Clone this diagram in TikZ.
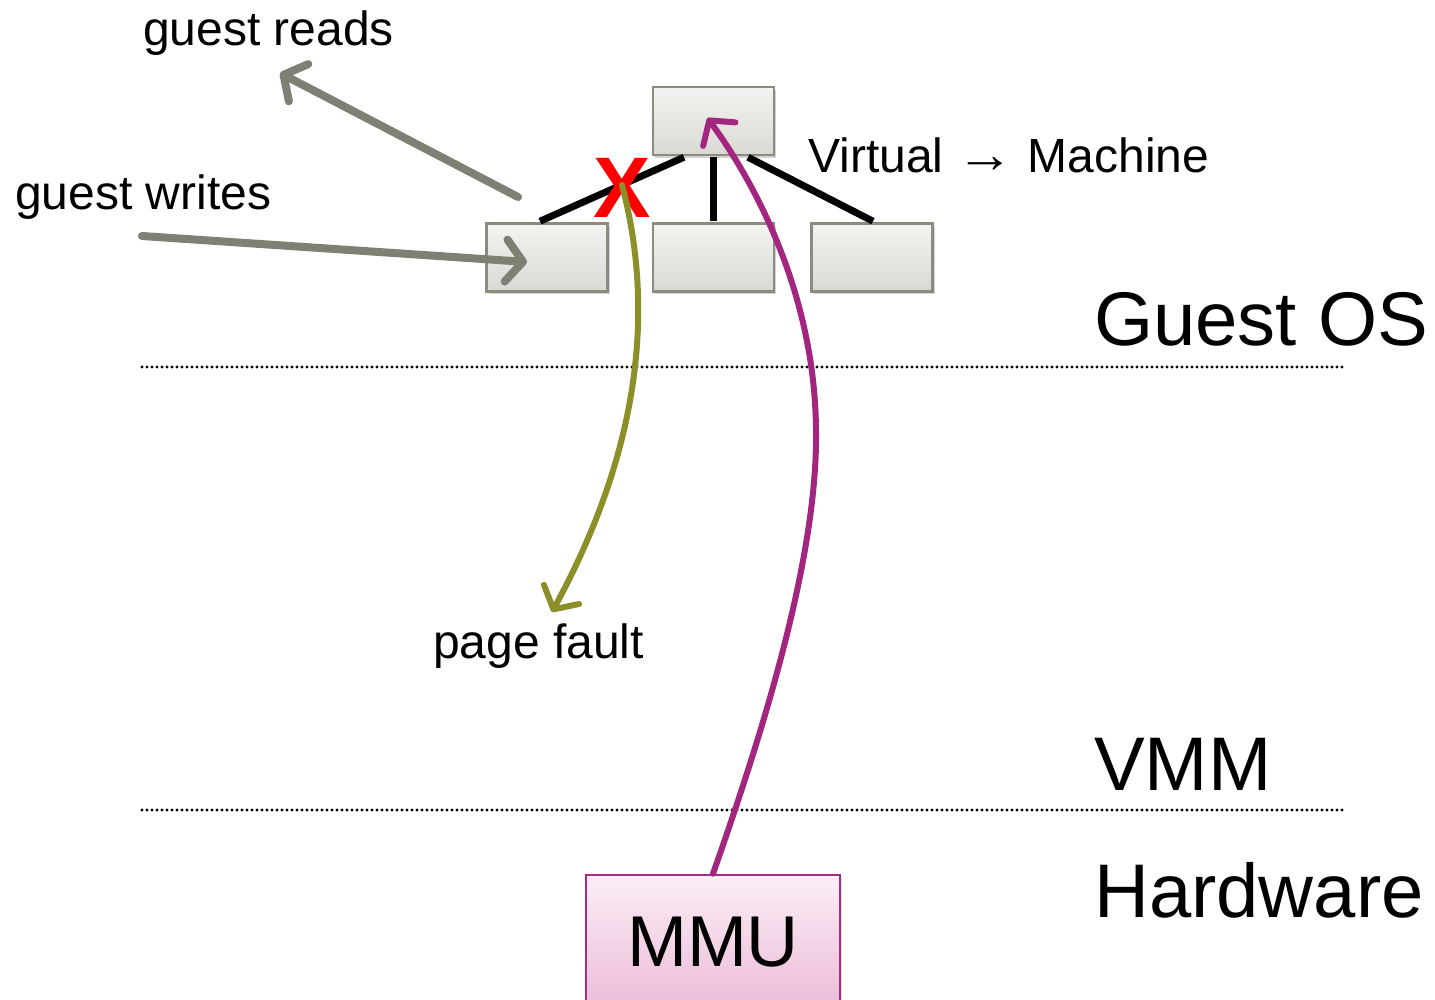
\documentclass[tikz,border=0pt]{standalone}
\usepackage{fontspec}
\setmainfont{Liberation Sans}
\usetikzlibrary{arrows.meta,shadows,calc}
\definecolor{boxborder}{HTML}{8B8B80}
\definecolor{boxtop}{HTML}{F3F3F1}
\definecolor{boxbot}{HTML}{D9D9D4}
\definecolor{grayarrow}{HTML}{7F7F74}
\definecolor{olivearrow}{HTML}{8A9027}
\definecolor{magarrow}{HTML}{A2267F}
\definecolor{mmuborder}{HTML}{A22E8A}
\definecolor{mmutop}{HTML}{FBEFF6}
\definecolor{mmubot}{HTML}{EBBAD7}
\tikzset{
  ptbox/.style={draw=boxborder, line width=2.5pt, top color=boxtop, bottom color=boxbot,
    minimum width=121pt, minimum height=68pt, inner sep=0pt,
    drop shadow={shadow xshift=2pt, shadow yshift=-3pt, opacity=0.35}},
  treeline/.style={line width=7pt, black},
  grayarr/.style={line width=8pt, grayarrow, line cap=round,
    -{Straight Barb[length=17pt,width=42pt,line width=8pt,round]}},
  curvearr/.style={line width=6pt, line cap=round,
    -{Straight Barb[length=17pt,width=40pt,line width=6pt,round]}},
  lbl/.style={font=\fontsize{48pt}{56pt}\selectfont, inner sep=0pt, anchor=base west},
  biglbl/.style={font=\fontsize{76pt}{86pt}\selectfont, inner sep=0pt, anchor=base west},
  sep/.style={line width=3.2pt, line cap=round, dash pattern=on 0pt off 5pt, black}
}
\begin{document}
\begin{tikzpicture}[x=1pt,y=-1pt]
\useasboundingbox (0,0) rectangle (1435,1000);
% separators
\coordinate (s1a) at (142,367);
\coordinate (s1b) at (1345,367);
\coordinate (s2a) at (142,810);
\coordinate (s2b) at (1345,810);
\draw[sep] (s1a) -- (s1b);
\draw[sep] (s2a) -- (s2b);
% page table boxes
\node[ptbox] (top) at (713.5,121) {};
\node[ptbox] (lft) at (547,257.5) {};
\node[ptbox] (mid) at (713.5,257.5) {};
\node[ptbox] (rgt) at (872,257.5) {};
\draw[treeline] ($(top.south)+(-29.5,1)$) -- ($(lft.north)+(-7,-1)$);
\draw[treeline] ($(top.south)+(0,1)$) -- ($(mid.north)+(0,-1)$);
\draw[treeline] ($(top.south)+(34.5,1)$) -- ($(rgt.north)+(1,-1)$);
% labels
\node[lbl] (reads) at (143,46) {guest reads};
\node[lbl] (writes) at (15,210) {guest writes};
\node[lbl] (vm) at (808,173) {Virtual \scalebox{1.2}[1.1]{→} Machine};
\node[lbl] (pf) at (433,658) {page fault};
\node[biglbl] (gos) at (1094,345) {Guest OS};
\node[biglbl] (vmm) at (1094,790) {VMM};
\node[biglbl] (hw) at (1094,917) {Hardware};
% MMU
\node[draw=mmuborder, line width=2.5pt, top color=mmutop, bottom color=mmubot,
  minimum width=254pt, minimum height=135pt, inner sep=0pt,
  font=\fontsize{72pt}{80pt}\selectfont,
  drop shadow={shadow xshift=2pt, shadow yshift=-3pt, opacity=0.25}] (mmu) at (713,942.5) {MMU};
% red X
\node[text=red, font=\fontsize{86pt}{90pt}\selectfont\bfseries, inner sep=0pt] (x) at (622,188) {X};
% gray arrows
\coordinate (rstart) at (518,197);
\coordinate (rend) at (280,73);
\coordinate (wstart) at (142,236);
\draw[grayarr] (rstart) -- (rend);
\draw[grayarr] (wstart) -- ($(lft.center)+(-20,4.5)$);
% olive page fault curve
\coordinate (pfend) at (552,612);
\draw[curvearr, olivearrow] ($(x.center)+(0,-3)$) .. controls (655,310) and (640,450) .. (pfend);
% magenta MMU curve
\draw[curvearr, magarrow] (mmu.north) .. controls (760,740) and (818,560) .. (816,430)
  .. controls (815,300) and (760,190) .. ($(top.center)+(-6,-3)$);
\end{tikzpicture}
\end{document}
